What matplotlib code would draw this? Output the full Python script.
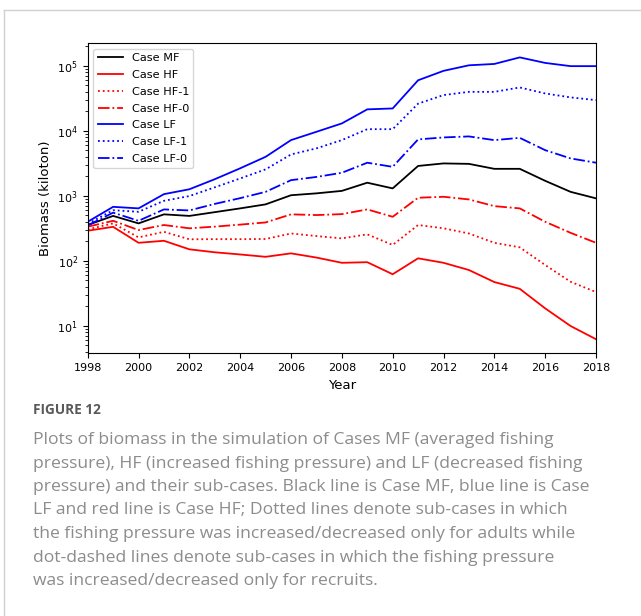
import matplotlib
matplotlib.use("Agg")
import matplotlib.pyplot as plt
from matplotlib.lines import Line2D

years = list(range(1998, 2019))

case_mf = [355, 490, 376, 518, 490, 560, 640, 738, 1020, 1090, 1190, 1590, 1300,
           2880, 3150, 3100, 2600, 2600, 1700, 1150, 913]
case_hf = [290, 333, 189, 203, 150, 135, 125, 115, 130, 112, 93, 95, 62,
           109, 93, 72, 47, 37, 18.5, 9.9, 6.2]
case_hf1 = [304, 376, 229, 279, 214, 215, 215, 216, 263, 240, 221, 255, 175,
            355, 316, 263, 189, 161, 86, 47.5, 33]
case_hf0 = [334, 412, 297, 355, 316, 335, 360, 389, 518, 505, 522, 617, 475,
            933, 966, 879, 693, 640, 398, 269, 189]
case_lf = [398, 676, 640, 1060, 1260, 1800, 2650, 3980, 7200, 9660, 13000, 21400, 22100,
           60000, 83800, 102000, 107000, 135000, 111000, 99000, 99000]
case_lf1 = [370, 600, 567, 837, 990, 1350, 1850, 2550, 4330, 5370, 7200, 10600, 10600,
            26200, 35500, 39800, 39800, 46500, 37600, 32700, 29700]
case_lf0 = [350, 550, 412, 617, 595, 750, 920, 1150, 1740, 1950, 2260, 3230, 2790,
            7380, 7910, 8200, 7190, 7800, 5040, 3760, 3230]

caption_lines = [
    "Plots of biomass in the simulation of Cases MF (averaged fishing",
    "pressure), HF (increased fishing pressure) and LF (decreased fishing",
    "pressure) and their sub-cases. Black line is Case MF, blue line is Case",
    "LF and red line is Case HF; Dotted lines denote sub-cases in which",
    "the fishing pressure was increased/decreased only for adults while",
    "dot-dashed lines denote sub-cases in which the fishing pressure",
    "was increased/decreased only for recruits.",
]

W, H = 641, 616
fig = plt.figure(figsize=(W / 100, H / 100), dpi=100)


def fx(px):
    return px / W


def fy(py):
    return 1 - py / H


ax = fig.add_axes([fx(87.7), fy(353.3), fx(596) - fx(87.7), fy(43.3) - fy(353.3)])

lw = 1.3
ax.plot(years, case_mf, color="black", lw=lw, label="Case MF")
ax.plot(years, case_hf, color="red", lw=lw, label="Case HF")
ax.plot(years, case_hf1, color="red", lw=lw, ls=":", label="Case HF-1")
ax.plot(years, case_hf0, color="red", lw=lw, ls="-.", label="Case HF-0")
ax.plot(years, case_lf, color="blue", lw=lw, label="Case LF")
ax.plot(years, case_lf1, color="blue", lw=lw, ls=":", label="Case LF-1")
ax.plot(years, case_lf0, color="blue", lw=lw, ls="-.", label="Case LF-0")

ax.set_yscale("log")
ax.set_xlim(1998, 2018)
ax.set_xticks(range(1998, 2019, 2))
ax.tick_params(labelsize=8)
ax.set_xlabel("Year", fontsize=9.5)
ax.set_ylabel("Biomass (kiloton)", fontsize=9.5)
ax.legend(loc="upper left", fontsize=8.1, handlelength=2.2, labelspacing=0.6)

# caption block under the chart
fig.text(fx(33), fy(410), "FIGURE 12", fontsize=9.8, color="#595959",
         family="Open Sans", weight="bold", va="center")
for i, line in enumerate(caption_lines):
    fig.text(fx(33), fy(440 + i * 23.5), line, fontsize=12.6, color="#8c8c8c",
             family="Open Sans", va="center")

# thin grey page frame
fig.add_artist(Line2D([fx(3.5), fx(3.5)], [fy(10), 0], color="#d0d0d0", lw=1))
fig.add_artist(Line2D([fx(3.5), 1], [fy(10), fy(10)], color="#d0d0d0", lw=1))

fig.savefig("out.png", dpi=100)
